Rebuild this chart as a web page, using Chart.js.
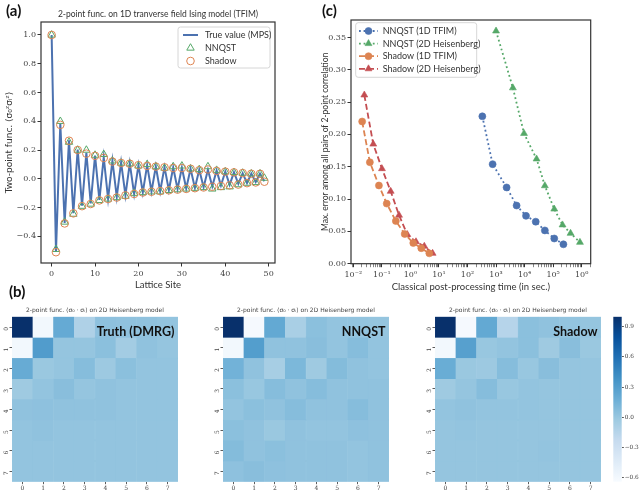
<!DOCTYPE html>
<html>
<head>
<meta charset="utf-8">
<script src="https://cdn.jsdelivr.net/npm/chart.js@4.4.1/dist/chart.umd.min.js"></script>
<style>
  html, body { margin: 0; padding: 0; background: #fff; }
  #page { position: relative; width: 640px; height: 491px; overflow: hidden; font-family: Lato, sans-serif; }
  #page canvas { position: absolute; }
  .tag { position: absolute; font-weight: bold; font-size: 15px; color: #111; line-height: 1; }
</style>
</head>
<body>
<div id="page">
  <canvas id="chartA" width="300" height="296" style="left:0;top:0"></canvas>
  <canvas id="chartC" width="320" height="296" style="left:320px;top:0"></canvas>
  <canvas id="heatTruth" width="182" height="191" style="left:0;top:300px"></canvas>
  <canvas id="heatNnqst" width="182" height="191" style="left:211px;top:300px"></canvas>
  <canvas id="heatShadow" width="182" height="191" style="left:423px;top:300px"></canvas>
  <canvas id="colorBar" width="35" height="191" style="left:605px;top:300px"></canvas>
  <div class="tag" style="left:6px;top:3px">(a)</div>
  <div class="tag" style="left:9px;top:284px">(b)</div>
  <div class="tag" style="left:322px;top:3px">(c)</div>
</div>
<script>
// (a) two-point function along the chain
const sites = [0, 1, 2, 3, 4, 5, 6, 7, 8, 9, 10, 11, 12, 13, 14, 15, 16, 17, 18, 19,
    20, 21, 22, 23, 24, 25, 26, 27, 28, 29, 30, 31, 32, 33, 34, 35, 36, 37, 38, 39,
    40, 41, 42, 43, 44, 45, 46, 47, 48, 49];
const trueVals = [1.0, -0.506, 0.383, -0.306, 0.267, -0.239, 0.204, -0.186, 0.181, -0.17,
    0.162, -0.146, 0.149, -0.137, 0.125, -0.125, 0.114, -0.114, 0.107, -0.104,
    0.095, -0.095, 0.095, -0.088, 0.086, -0.086, 0.081, -0.079, 0.079, -0.07,
    0.077, -0.067, 0.07, -0.063, 0.063, -0.058, 0.063, -0.053, 0.058, -0.046,
    0.051, -0.042, 0.046, -0.035, 0.039, -0.03, 0.037, -0.023, 0.037, -0.016];
const nnqstVals = [1.0, -0.49, 0.40, -0.30, 0.255, -0.245, 0.20, -0.19, 0.20, -0.175,
    0.165, -0.15, 0.17, -0.14, 0.125, -0.13, 0.11, -0.12, 0.105, -0.10,
    0.09, -0.095, 0.10, -0.09, 0.085, -0.09, 0.075, -0.08, 0.085, -0.075,
    0.09, -0.07, 0.07, -0.065, 0.065, -0.06, 0.085, -0.07, 0.06, -0.06,
    0.05, -0.055, 0.045, -0.04, 0.04, -0.03, 0.035, -0.025, 0.035, 0.005];
const shadowVals = [1.0, -0.51, 0.375, -0.31, 0.265, -0.24, 0.20, -0.19, 0.175, -0.175,
    0.16, -0.15, 0.145, -0.14, 0.12, -0.13, 0.11, -0.115, 0.105, -0.105,
    0.095, -0.095, 0.09, -0.09, 0.085, -0.085, 0.08, -0.08, 0.075, -0.075,
    0.075, -0.07, 0.07, -0.065, 0.06, -0.06, 0.065, -0.055, 0.055, -0.05,
    0.05, -0.045, 0.045, -0.04, 0.04, -0.03, 0.035, -0.025, 0.035, -0.02];
const xTicksA = [0, 10, 20, 30, 40, 50];
const yTicksA = [-0.4, -0.2, 0.0, 0.2, 0.4, 0.6, 0.8, 1.0];

// (c) error vs classical post-processing time (seconds)
const nnqst1dTime = [331, 759, 2344, 5250, 11220, 24550, 51290, 109600, 229100];
const nnqst1dErr = [0.228, 0.154, 0.118, 0.090, 0.074, 0.065, 0.0515, 0.039, 0.030];
const nnqst2dTime = [1000, 3890, 9550, 26300, 51290, 109600, 213800, 407400, 871000];
const nnqst2dErr = [0.360, 0.272, 0.2015, 0.162, 0.1206, 0.0845, 0.060, 0.047, 0.033];
const shadow1dTime = [0.0204, 0.038, 0.079, 0.148, 0.309, 0.63, 1.26, 2.4, 4.6];
const shadow1dErr = [0.220, 0.157, 0.121, 0.093, 0.066, 0.046, 0.032, 0.024, 0.016];
const shadow2dTime = [0.0243, 0.050, 0.101, 0.204, 0.40, 0.78, 1.57, 3.07, 6.0];
const shadow2dErr = [0.261, 0.185, 0.147, 0.112, 0.075, 0.045, 0.034, 0.027, 0.016];
const xDecadesC = [-2, -1, 0, 1, 2, 3, 4, 5, 6];
const yTicksC = [0.00, 0.05, 0.10, 0.15, 0.20, 0.25, 0.30, 0.35];

// (b) 8x8 correlation maps, row = lattice row, column = lattice column
const heatCols = ['0', '1', '2', '3', '4', '5', '6', '7'];
const heatRows = ['0', '1', '2', '3', '4', '5', '6', '7'];
const truthMap = [
    [1.00, -0.60, 0.21, -0.11, 0.04, 0.03, 0.03, 0.02],
    [-0.60, 0.31, 0.01, 0.01, 0.05, -0.05, 0.03, 0.01],
    [0.20, -0.01, 0.01, 0.07, -0.02, 0.05, 0.02, 0.02],
    [-0.03, 0.02, 0.06, 0.01, 0.03, 0.02, 0.02, 0.02],
    [0.03, 0.04, 0.03, 0.03, 0.03, 0.02, 0.02, 0.02],
    [0.02, 0.03, 0.02, 0.02, 0.02, 0.02, 0.02, 0.02],
    [0.02, 0.02, 0.02, 0.02, 0.02, 0.02, 0.02, 0.02],
    [0.02, 0.02, 0.02, 0.02, 0.02, 0.02, 0.02, 0.02]
];
const nnqstMap = [
    [1.00, -0.62, 0.22, -0.08, 0.05, 0.02, 0.02, 0.01],
    [-0.60, 0.30, 0.03, 0.03, 0.06, 0.02, 0.07, 0.02],
    [0.15, 0.03, -0.07, 0.11, -0.03, 0.08, 0.03, 0.02],
    [0.05, 0.00, 0.07, 0.03, 0.07, 0.03, 0.03, 0.03],
    [0.02, 0.05, 0.03, 0.07, 0.03, 0.03, 0.07, 0.03],
    [0.05, 0.03, -0.01, 0.03, 0.02, 0.02, 0.04, 0.03],
    [0.08, 0.03, 0.05, 0.03, 0.03, 0.03, 0.02, 0.03],
    [0.04, 0.06, 0.04, 0.03, 0.03, 0.03, 0.02, 0.03]
];
const shadowMap = [
    [1.00, -0.62, 0.22, -0.15, 0.05, 0.03, 0.02, 0.01],
    [-0.60, 0.28, 0.00, 0.02, 0.05, -0.03, 0.06, -0.01],
    [0.19, -0.01, -0.02, 0.07, 0.00, 0.06, 0.01, 0.01],
    [-0.03, 0.01, 0.07, 0.00, 0.02, 0.01, 0.01, 0.01],
    [0.02, 0.03, 0.02, 0.02, 0.02, 0.01, 0.01, 0.01],
    [0.01, 0.02, 0.01, 0.01, 0.01, 0.01, 0.01, 0.01],
    [0.01, 0.01, 0.01, 0.01, 0.01, 0.02, 0.01, 0.01],
    [0.01, 0.01, 0.01, 0.01, 0.01, 0.01, 0.01, 0.01]
];
const cbTicks = [-0.6, -0.3, 0.0, 0.3, 0.6, 0.9];
const cbMin = -0.64;
const cbMax = 1.0;

const BLUE = '#4C72B0';
const ORANGE = '#DD8452';
const GREEN = '#55A868';
const RED = '#C44E52';
const AXIS = '#333333';
const TICK_FONT = { family: 'DejaVu Serif', size: 8 };

// matplotlib "Blues"
const bluesStops = [
    [247, 251, 255], [222, 235, 247], [198, 219, 239], [158, 202, 225], [107, 174, 214],
    [66, 146, 198], [33, 113, 181], [8, 81, 156], [8, 48, 107]
];

Chart.defaults.font.family = 'Lato, sans-serif';
Chart.defaults.color = '#333';

function blues(v) {
    let t = (v - cbMin) / (cbMax - cbMin);
    t = Math.max(0, Math.min(1, t)) * (bluesStops.length - 1);
    const i = Math.min(Math.floor(t), bluesStops.length - 2);
    const f = t - i;
    const a = bluesStops[i], b = bluesStops[i + 1];
    const c = a.map((x, k) => Math.round(x + (b[k] - x) * f));
    return `rgb(${c[0]}, ${c[1]}, ${c[2]})`;
}

function minus(s) {
    return s.replace('-', '\u2212');
}

const supDigits = { '-': '\u207B', '0': '\u2070', '1': '\u00B9', '2': '\u00B2', '3': '\u00B3',
    '4': '\u2074', '5': '\u2075', '6': '\u2076', '7': '\u2077', '8': '\u2078', '9': '\u2079' };

function toPoints(xs, ys) {
    return xs.map((x, i) => ({ x: x, y: ys[i] }));
}

function fixedTicks(list) {
    return (scale) => { scale.ticks = list.map(v => ({ value: v })); };
}

// box round the plot area (matplotlib spines)
const frame = {
    id: 'frame',
    afterDatasetsDraw(chart) {
        const { ctx, chartArea: a } = chart;
        ctx.save();
        ctx.strokeStyle = AXIS;
        ctx.lineWidth = 1.2;
        ctx.strokeRect(a.left, a.top, a.right - a.left, a.bottom - a.top);
        ctx.restore();
    }
};

// legend drawn inside the axes, like matplotlib's
const boxLegend = {
    id: 'boxLegend',
    afterDraw(chart, args, opts) {
        const { ctx } = chart;
        ctx.save();
        ctx.fillStyle = 'rgba(255,255,255,0.85)';
        ctx.strokeStyle = '#cccccc';
        ctx.lineWidth = 0.8;
        ctx.beginPath();
        if (ctx.roundRect) {
            ctx.roundRect(opts.x, opts.y, opts.w, opts.h, 2.5);
        } else {
            ctx.rect(opts.x, opts.y, opts.w, opts.h);
        }
        ctx.fill();
        ctx.stroke();
        chart.data.datasets.forEach((ds, i) => {
            const cy = opts.y + opts.first + i * opts.row;
            if (ds.showLine !== false) {
                ctx.strokeStyle = ds.borderColor;
                ctx.lineWidth = ds.borderWidth;
                ctx.setLineDash(ds.borderDash || []);
                ctx.beginPath();
                ctx.moveTo(opts.lineFrom, cy);
                ctx.lineTo(opts.lineTo, cy);
                ctx.stroke();
                ctx.setLineDash([]);
            }
            if (ds.pointRadius > 0) {
                ctx.fillStyle = ds.pointBackgroundColor;
                ctx.strokeStyle = ds.pointBorderColor;
                ctx.lineWidth = ds.pointBorderWidth;
                Chart.helpers.drawPoint(ctx, {
                    pointStyle: ds.pointStyle, radius: ds.pointRadius,
                    borderWidth: ds.pointBorderWidth, rotation: 0
                }, (opts.lineFrom + opts.lineTo) / 2, cy);
            }
            ctx.fillStyle = '#333';
            ctx.font = opts.font;
            ctx.textAlign = 'left';
            ctx.textBaseline = 'middle';
            ctx.fillText(ds.label, opts.textX, cy);
        });
        ctx.restore();
    }
};

const cornerLabel = {
    id: 'cornerLabel',
    afterDatasetsDraw(chart, args, opts) {
        const { ctx, chartArea } = chart;
        ctx.save();
        ctx.font = 'bold 12.5px Lato, sans-serif';
        ctx.fillStyle = '#111';
        ctx.textAlign = 'right';
        ctx.textBaseline = 'middle';
        ctx.fillText(opts.text, chartArea.right - 3.5, chartArea.top + 15.5);
        ctx.restore();
    }
};

function axisGrid() {
    return { drawOnChartArea: false, tickLength: 3.5, tickColor: AXIS, tickWidth: 1 };
}

function chartA() {
    new Chart(document.getElementById('chartA'), {
        type: 'line',
        data: {
            datasets: [
                {
                    label: 'True value (MPS)', data: toPoints(sites, trueVals), order: 3,
                    borderColor: BLUE, borderWidth: 2, pointRadius: 0, tension: 0
                },
                {
                    label: 'NNQST', data: toPoints(sites, nnqstVals), order: 2, showLine: false,
                    pointStyle: 'triangle', pointRadius: 4.3, pointBorderWidth: 1,
                    pointBorderColor: GREEN, pointBackgroundColor: 'rgba(0,0,0,0)'
                },
                {
                    label: 'Shadow', data: toPoints(sites, shadowVals), order: 1, showLine: false,
                    pointStyle: 'circle', pointRadius: 3.8, pointBorderWidth: 1,
                    pointBorderColor: ORANGE, pointBackgroundColor: 'rgba(0,0,0,0)'
                }
            ]
        },
        options: {
            responsive: false,
            animation: false,
            events: [],
            layout: { autoPadding: false, padding: { left: 0, right: 25, top: 0, bottom: 0 } },
            plugins: {
                legend: { display: false },
                tooltip: { enabled: false },
                title: {
                    display: true, fullSize: false,
                    text: '2-point func. on 1D tranverse field Ising model (TFIM)',
                    font: { size: 8.5, weight: 'normal' }, color: '#333',
                    padding: { top: 9.6, bottom: 2.2 }
                },
                boxLegend: {
                    x: 178, y: 27, w: 92, h: 41, first: 8, row: 13,
                    lineFrom: 183, lineTo: 198, textX: 205, font: '9px Lato, sans-serif'
                }
            },
            scales: {
                x: {
                    type: 'linear', min: -2.45, max: 51.45,
                    afterBuildTicks: fixedTicks(xTicksA),
                    afterFit: (s) => { s.height = 33; },
                    ticks: { font: TICK_FONT, color: '#444', padding: 2.5, callback: v => String(v) },
                    grid: axisGrid(),
                    border: { display: false },
                    title: {
                        display: true, text: 'Lattice Site', font: { size: 9.5 }, color: '#333',
                        padding: { top: 0, bottom: 5.3 }
                    }
                },
                y: {
                    type: 'linear', min: -0.585, max: 1.09,
                    afterBuildTicks: fixedTicks(yTicksA),
                    afterFit: (s) => { s.width = 41; },
                    ticks: { font: TICK_FONT, color: '#444', padding: 1.5, callback: v => minus(v.toFixed(1)) },
                    grid: axisGrid(),
                    border: { display: false },
                    title: {
                        display: true, text: 'Two-point func. \u27E8\u03C3\u2080\u1DBB\u03C3\u1D62\u1DBB\u27E9',
                        font: { size: 9, family: 'DejaVu Sans' }, color: '#333', padding: { top: 4.6, bottom: 0 }
                    }
                }
            }
        },
        plugins: [frame, boxLegend]
    });
}

function chartC() {
    const lineStyle = (label, t, e, color, dash, style) => ({
        label: label, data: toPoints(t, e),
        borderColor: color, borderWidth: 1.8, borderDash: dash, tension: 0,
        pointStyle: style, pointRadius: style === 'triangle' ? 4 : 3.5, pointBorderWidth: 0.6,
        pointBorderColor: color, pointBackgroundColor: color
    });
    new Chart(document.getElementById('chartC'), {
        type: 'line',
        data: {
            datasets: [
                lineStyle('NNQST (1D TFIM)', nnqst1dTime, nnqst1dErr, BLUE, [1.8, 2.8], 'circle'),
                lineStyle('NNQST (2D Heisenberg)', nnqst2dTime, nnqst2dErr, GREEN, [1.8, 2.8], 'triangle'),
                lineStyle('Shadow (1D TFIM)', shadow1dTime, shadow1dErr, ORANGE, [6, 3], 'circle'),
                lineStyle('Shadow (2D Heisenberg)', shadow2dTime, shadow2dErr, RED, [6, 3], 'triangle')
            ]
        },
        options: {
            responsive: false,
            animation: false,
            events: [],
            layout: { autoPadding: false, padding: { left: 0, right: 49.3, top: 20, bottom: 0 } },
            plugins: {
                legend: { display: false },
                tooltip: { enabled: false },
                boxLegend: {
                    x: 35.7, y: 22.7, w: 121, h: 54.6, first: 8.3, row: 12.6,
                    lineFrom: 39, lineTo: 58, textX: 62.7, font: '9px Lato, sans-serif'
                }
            },
            scales: {
                x: {
                    type: 'logarithmic', min: 0.0083, max: 2.07e6,
                    afterBuildTicks: (scale) => {
                        const ticks = [];
                        xDecadesC.concat([-3]).forEach(e => {
                            [1, 2, 3, 4, 5, 6, 7, 8, 9].forEach(m => {
                                const v = m * Math.pow(10, e);
                                if (v >= scale.min && v <= scale.max) ticks.push({ value: v, major: m === 1 });
                            });
                        });
                        ticks.sort((p, q) => p.value - q.value);
                        scale.ticks = ticks;
                    },
                    afterFit: (s) => { s.height = 32.3; },
                    ticks: {
                        font: TICK_FONT, color: '#444', padding: 2.5, autoSkip: false, maxRotation: 0,
                        callback: (v, i, ticks) => {
                            if (!ticks[i].major) return '';
                            const e = String(Math.round(Math.log10(v)));
                            return '10' + e.split('').map(ch => supDigits[ch]).join('');
                        }
                    },
                    grid: {
                        drawOnChartArea: false, tickLength: 3.5, tickColor: AXIS,
                        tickWidth: (ctx) => (ctx.tick && ctx.tick.major ? 1 : 0.6)
                    },
                    border: { display: false },
                    title: {
                        display: true, text: 'Classical post-processing time (in sec.)',
                        font: { size: 9.5 }, color: '#333', padding: { top: 0, bottom: 3.3 }
                    }
                },
                y: {
                    type: 'linear', min: 0, max: 0.377,
                    afterBuildTicks: fixedTicks(yTicksC),
                    afterFit: (s) => { s.width = 31; },
                    ticks: { font: TICK_FONT, color: '#444', padding: 1.5, callback: v => v.toFixed(2) },
                    grid: axisGrid(),
                    border: { display: false },
                    title: {
                        display: true, text: 'Max. error among all pairs of 2-point correlation',
                        font: { size: 8.5 }, color: '#333', padding: { top: 0, bottom: 0 }
                    }
                }
            }
        },
        plugins: [frame, boxLegend]
    });
}

function heatmap(id, label, values) {
    const datasets = values.map((row, r) => ({
        data: row.map(() => [r, r + 1]),
        backgroundColor: row.map(v => blues(v)),
        borderColor: row.map(v => blues(v)),
        borderWidth: 0.5,
        borderSkipped: false,
        grouped: false,
        barPercentage: 1,
        categoryPercentage: 1
    }));
    const smallTicks = { family: 'DejaVu Serif', size: 6 };
    new Chart(document.getElementById(id), {
        type: 'bar',
        data: { labels: heatCols, datasets: datasets },
        options: {
            responsive: false,
            animation: false,
            events: [],
            layout: { autoPadding: false, padding: { left: 0, right: 4, top: 0, bottom: 0 } },
            plugins: {
                legend: { display: false },
                tooltip: { enabled: false },
                title: {
                    display: true, fullSize: false,
                    text: '2-point func. \u27E8\u03C3\u2080 \u00B7 \u03C3\u1D62\u27E9 on 2D Heisenberg model',
                    font: { family: 'DejaVu Sans', size: 6, weight: 'normal' }, color: '#444',
                    padding: { top: 6.4, bottom: 3.1 }
                },
                cornerLabel: { text: label }
            },
            scales: {
                x: {
                    afterFit: (s) => { s.height = 9.3; },
                    ticks: { font: smallTicks, color: '#444', padding: 0.5, maxRotation: 0 },
                    grid: { offset: false, drawOnChartArea: false, tickLength: 2.5, tickColor: AXIS, tickWidth: 0.8 },
                    border: { display: false }
                },
                y: {
                    type: 'linear', min: 0, max: 8, reverse: true,
                    afterBuildTicks: (scale) => { scale.ticks = heatRows.map((_, i) => ({ value: i + 0.5 })); },
                    afterFit: (s) => { s.width = 12; },
                    ticks: {
                        font: smallTicks, color: '#444', padding: 3, minRotation: 90, maxRotation: 90,
                        callback: (v, i) => heatRows[i]
                    },
                    grid: { drawOnChartArea: false, tickLength: 2.5, tickColor: AXIS, tickWidth: 0.8 },
                    border: { display: false }
                }
            }
        },
        plugins: [cornerLabel]
    });
}

function colorBar() {
    const gradient = (chart) => {
        const a = chart.chartArea;
        if (!a) return 'rgba(0,0,0,0)';
        const g = chart.ctx.createLinearGradient(0, a.bottom, 0, a.top);
        bluesStops.forEach((c, i) => g.addColorStop(i / (bluesStops.length - 1), `rgb(${c[0]}, ${c[1]}, ${c[2]})`));
        return g;
    };
    new Chart(document.getElementById('colorBar'), {
        type: 'bar',
        data: {
            labels: [''],
            datasets: [{
                data: [[cbMin, cbMax]],
                backgroundColor: (ctx) => gradient(ctx.chart),
                borderWidth: 0, barPercentage: 1, categoryPercentage: 1
            }]
        },
        options: {
            responsive: false,
            animation: false,
            events: [],
            layout: { autoPadding: false, padding: { left: 8.3, right: 0, top: 16.7, bottom: 9.3 } },
            plugins: { legend: { display: false }, tooltip: { enabled: false } },
            scales: {
                x: { display: false },
                y: {
                    position: 'right', min: cbMin, max: cbMax,
                    afterBuildTicks: fixedTicks(cbTicks),
                    afterFit: (s) => { s.width = 18.3; },
                    ticks: {
                        font: { family: 'DejaVu Serif', size: 5.8 }, color: '#444', padding: 0.8,
                        callback: v => minus(v.toFixed(1))
                    },
                    grid: { drawOnChartArea: false, tickLength: 2.2, tickColor: AXIS, tickWidth: 0.8 },
                    border: { display: false }
                }
            }
        }
    });
}

chartA();
chartC();
heatmap('heatTruth', 'Truth (DMRG)', truthMap);
heatmap('heatNnqst', 'NNQST', nnqstMap);
heatmap('heatShadow', 'Shadow', shadowMap);
colorBar();
</script>
</body>
</html>
